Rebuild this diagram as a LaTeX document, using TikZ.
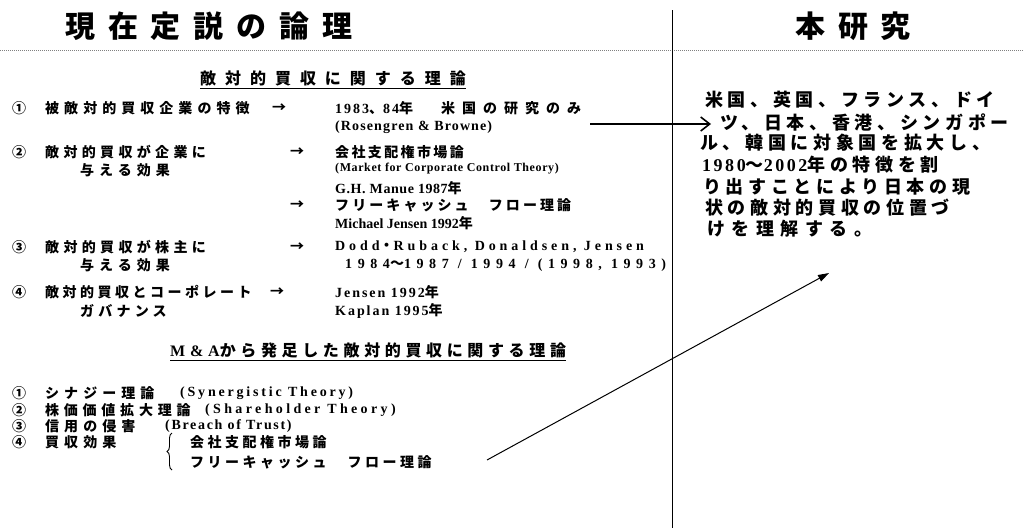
\documentclass[tikz,border=0pt]{standalone}
\usepackage{fontspec}
\setmainfont{Liberation Serif}
\newfontfamily\jp{Noto Sans CJK JP}
\newfontfamily\jpt[LetterSpace=43]{Noto Sans CJK JP}
\newfontfamily\jph[LetterSpace=56]{Noto Sans CJK JP}
\newfontfamily\jphb[LetterSpace=29]{Noto Sans CJK JP}
\newfontfamily\jpr[LetterSpace=26]{Noto Sans CJK JP}
\newcommand\J[2][36]{{\jp\addfontfeature{LetterSpace=#1}#2}}
\newcommand\JR[1]{{\jpr #1}}
\newcommand\LS[1]{\addfontfeature{LetterSpace=#1}}
\usetikzlibrary{arrows.meta,decorations.pathreplacing}
\tikzset{
  txt/.style={anchor=west, inner sep=0pt, font=\bfseries\fontsize{14}{16}\selectfont},
  small/.style={anchor=west, inner sep=0pt, font=\bfseries\fontsize{12}{14}\selectfont},
  title/.style={anchor=west, inner sep=0pt, font=\bfseries\fontsize{30}{32}\selectfont},
  head/.style={anchor=west, inner sep=0pt, font=\bfseries\fontsize{16}{18}\selectfont},
  rtxt/.style={anchor=west, inner sep=0pt, font=\bfseries\fontsize{18}{20}\selectfont},
  uline/.style={line width=0.9pt},
  sep/.style={line width=0.8pt},
  dotline/.style={line width=0.6pt, gray, dash pattern=on 1pt off 1pt},
  bigarrow/.style={line width=1.6pt, -{Straight Barb[length=9pt,width=14pt,line width=1.6pt]}},
  diagarrow/.style={line width=1pt, -{Triangle[length=11pt,width=7pt]}},
}
\begin{document}
\begin{tikzpicture}[x=1pt,y=-1pt]
\useasboundingbox (0,0) rectangle (1023,528);
% separators
\draw[dotline] (0,50) -- (1023,50);
\draw[sep] (672,10) -- (672,528);
% titles
\node[title] (tl) at (65,26) {\jpt 現在定説の論理};
\node[title] (tr) at (795,26) {\jpt 本研究};
% heading 1
\node[head] (h1) at (200,78) {\jph 敵対的買収に関する理論};
\draw[uline] (h1.south west) ++(0,3) -- ([yshift=-3pt]h1.south east);
% row 1
\node[txt] (n1) at (12,108) {\J{①}};
\node[txt] (t1) at (45,108) {\J{被敵対的買収企業の特徴}};
\node[txt] (a1) at (272,108) {\J{→}};
\node[txt] (r1) at (335,108) {\LS{14}1983\J[10]{、}84\J[50]{年　米国の研究のみ}};
\node[txt] (r1b) at (335,127) {\LS{8}(Rosengren \& Browne)};
% row 2
\node[txt] (n2) at (12,152) {\J{②}};
\node[txt] (t2) at (45,152) {\J[31]{敵対的買収が企業に}};
\node[txt] (t2b) at (80,170) {\J{与える効果}};
\node[txt] (a2) at (290,152) {\J{→}};
\node[txt] (r2) at (335,152) {\J[17]{会社支配権市場論}};
\node[small] (r2b) at (335,169) {\LS{5}(Market for Corporate Control Theory)};
\node[txt] (r2c) at (335,188) {\LS{4}G.H. Manue 1987\J{年}};
\node[txt] (a2b) at (290,205) {\J{→}};
\node[txt] (r2d) at (335,205) {\J[22]{フリーキャッシュ　フロー理論}};
\node[txt] (r2e) at (335,223) {Michael Jensen 1992\J{年}};
% row 3
\node[txt] (n3) at (12,247) {\J{③}};
\node[txt] (t3) at (45,247) {\J[31]{敵対的買収が株主に}};
\node[txt] (t3b) at (80,265) {\J{与える効果}};
\node[txt] (a3) at (290,247) {\J{→}};
\node[txt] (r3) at (335,247) {\LS{28}Dodd\J[28]{・}Ruback, Donaldsen, Jensen};
\node[txt] (r3b) at (345,265) {\LS{40}1984\J[20]{～}1987 / 1994 / (1998, 1993)};
% row 4
\node[txt] (n4) at (12,292) {\J{④}};
\node[txt] (t4) at (45,292) {\J[25]{敵対的買収とコーポレート}};
\node[txt] (t4b) at (80,311) {\J[30]{ガバナンス}};
\node[txt] (a4) at (270,292) {\J{→}};
\node[txt] (r4) at (335,292) {\LS{14}Jensen 1992\J{年}};
\node[txt] (r4b) at (335,311) {\LS{14}Kaplan 1995\J{年}};
% heading 2
\node[head] (h2) at (170,350) {\LS{30}M\&A{\jphb から発足した敵対的買収に関する理論}};
\draw[uline] (h2.south west) ++(0,3) -- ([yshift=-3pt]h2.south east);
% list
\node[txt] (l1n) at (12,393) {\J{①}};
\node[txt] (l1) at (45,393) {\J{シナジー理論}};
\node[txt] (l1b) at (180,393) {\LS{20}(Synergistic Theory)};
\node[txt] (l2n) at (12,410) {\J{②}};
\node[txt] (l2) at (45,410) {\J[34]{株価価値拡大理論}};
\node[txt] (l2b) at (205,410) {\LS{24}(Shareholder Theory)};
\node[txt] (l3n) at (12,426) {\J{③}};
\node[txt] (l3) at (45,426) {\J{信用の侵害}};
\node[txt] (l3b) at (165,426) {\LS{12}(Breach of Trust)};
\node[txt] (l4n) at (12,442) {\J{④}};
\node[txt] (l4) at (45,442) {\J{買収効果}};
\node[txt] (l4a) at (190,442) {\J[25]{会社支配権市場論}};
\node[txt] (l4b) at (190,462) {\J[25]{フリーキャッシュ　フロー理論}};
\draw[line width=0.9pt, decorate, decoration={brace, amplitude=5pt}] (172,470) -- (172,433);
% right text
\node[rtxt] (rt1) at (705,100) {\JR{米国、英国、フランス、ドイ}};
\node[rtxt] (rt2) at (720,122) {\JR{ツ、日本、香港、シンガポー}};
\node[rtxt] (rt3) at (700,143) {\JR{ル、韓国に対象国を拡大し、}};
\node[rtxt] (rt4) at (702,165) {\LS{14}1980\JR{～}2002\JR{年の特徴を割}};
\node[rtxt] (rt5) at (703,187) {\JR{り出すことにより日本の現}};
\node[rtxt] (rt6) at (705,208) {\JR{状の敵対的買収の位置づ}};
\node[rtxt] (rt7) at (707,229) {{\jp\addfontfeature{LetterSpace=36}けを理解する。}};
% connectors
\coordinate (ba) at (590,124);
\coordinate (bt) at (711,124);
\draw[bigarrow] (ba) -- (bt);
\coordinate (da) at (487,460);
\coordinate (dt) at (829,273);
\draw[diagarrow] (da) -- (dt);
\end{tikzpicture}
\end{document}
